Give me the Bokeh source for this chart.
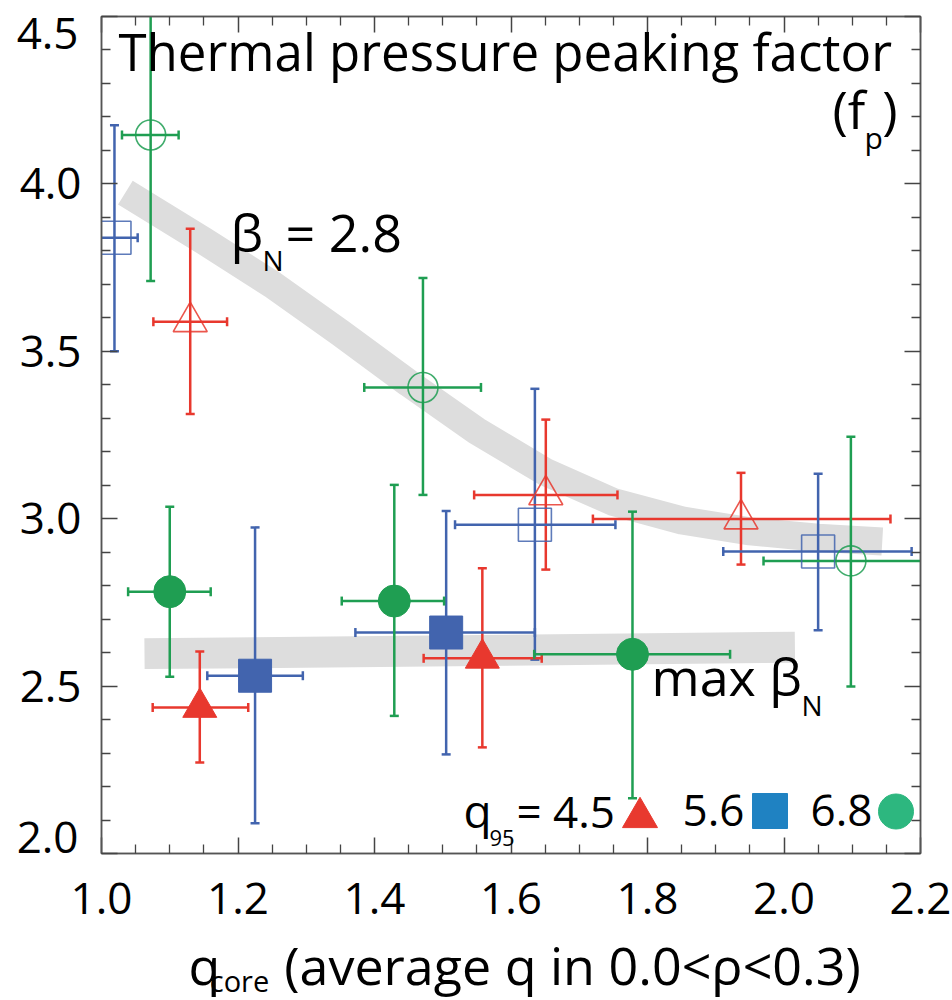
import numpy as np
from bokeh.plotting import figure
from bokeh.models import Range1d, FixedTicker, LinearAxis, Label, ColumnDataSource, PrintfTickFormatter
from bokeh.embed import file_html
from bokeh.resources import INLINE

# ---------------- data ----------------
x_ticks = [1.0, 1.2, 1.4, 1.6, 1.8, 2.0, 2.2]
x_minor = [1.05, 1.1, 1.15, 1.25, 1.3, 1.35, 1.45, 1.5, 1.55, 1.65, 1.7, 1.75,
           1.85, 1.9, 1.95, 2.05, 2.1, 2.15]
y_ticks = [2.0, 2.5, 3.0, 3.5, 4.0, 4.5]
y_minor = [2.1, 2.2, 2.3, 2.4, 2.6, 2.7, 2.8, 2.9, 3.1, 3.2, 3.3, 3.4,
           3.6, 3.7, 3.8, 3.9, 4.1, 4.2, 4.3, 4.4]
y_end_labels = ["4.5", "2.0"]   # end labels drawn nudged inside, as in the original

q95_labels = ["4.5", "5.6", "6.8"]

# beta_N = 2.8  (open symbols)
bn28_q45_x = [1.130, 1.651, 1.937]
bn28_q45_y = [3.588, 3.071, 2.999]
bn28_q45_xlo = [1.076, 1.546, 1.720]
bn28_q45_xhi = [1.184, 1.756, 2.156]
bn28_q45_ylo = [3.313, 2.848, 2.863]
bn28_q45_yhi = [3.866, 3.296, 3.137]

bn28_q56_x = [1.019, 1.635, 2.050]
bn28_q56_y = [3.839, 2.982, 2.902]
bn28_q56_xlo = [0.990, 1.518, 1.911]
bn28_q56_xhi = [1.053, 1.753, 2.187]
bn28_q56_ylo = [3.500, 2.579, 2.667]
bn28_q56_yhi = [4.175, 3.388, 3.134]

bn28_q68_x = [1.072, 1.471, 2.098]
bn28_q68_y = [4.146, 3.392, 2.874]
bn28_q68_xlo = [1.030, 1.385, 1.970]
bn28_q68_xhi = [1.113, 1.556, 2.250]
bn28_q68_ylo = [3.710, 3.071, 2.499]
bn28_q68_yhi = [4.600, 3.719, 3.245]

# max beta_N  (filled symbols)
bnmax_q45_x = [1.144, 1.558]
bnmax_q45_y = [2.436, 2.583]
bnmax_q45_xlo = [1.075, 1.472]
bnmax_q45_xhi = [1.215, 1.645]
bnmax_q45_ylo = [2.272, 2.317]
bnmax_q45_yhi = [2.603, 2.852]

bnmax_q56_x = [1.225, 1.505]
bnmax_q56_y = [2.531, 2.660]
bnmax_q56_xlo = [1.155, 1.372]
bnmax_q56_xhi = [1.295, 1.635]
bnmax_q56_ylo = [2.090, 2.296]
bnmax_q56_yhi = [2.974, 3.023]

bnmax_q68_x = [1.100, 1.429, 1.778]
bnmax_q68_y = [2.782, 2.754, 2.595]
bnmax_q68_xlo = [1.039, 1.352, 1.634]
bnmax_q68_xhi = [1.160, 1.502, 1.921]
bnmax_q68_ylo = [2.528, 2.411, 2.165]
bnmax_q68_yhi = [3.036, 3.101, 3.021]

# guide bands (trend curves)
band_bn28_x = [1.035, 1.15, 1.25, 1.35, 1.45, 1.55, 1.65, 1.75, 1.85, 1.95, 2.05, 2.144]
band_bn28_y = [3.974, 3.830, 3.700, 3.555, 3.405, 3.262, 3.140, 3.050, 2.995, 2.962, 2.943, 2.932]
band_max_x = [1.063, 1.556, 2.016]
band_max_y = [2.597, 2.606, 2.616]

# ---------------- style ----------------
RED, BLUE, GREEN = "#e8382e", "#4264ae", "#1f9e52"
LEG_RED, LEG_BLUE, LEG_GREEN = "#e8392f", "#1f82c2", "#2db77f"
FONT = "Open Sans"
BASE_SHIFT = 0.43   # empirical baseline correction (fraction of font size)

X0, X1, Y0, Y1 = 1.0, 2.2, 2.0, 4.5
FL, FT, FW = 101, 16, 819
FB = 853                       # frame bottom in page pixels
FH = FB - FT


def dx(px):
    return X0 + (px - FL) * (X1 - X0) / FW


def dy(py):
    return Y1 - (py - FT) * (Y1 - Y0) / FH


p = figure(frame_width=FW, frame_height=FH,
           x_range=Range1d(X0, X1), y_range=Range1d(Y0, Y1),
           output_backend="svg", toolbar_location=None,
           min_border_left=FL, min_border_right=952 - FL - FW,
           min_border_top=FT, min_border_bottom=1000 - FB,
           background_fill_color="white", border_fill_color="white",
           outline_line_color="#555555", outline_line_width=1.5)
p.xgrid.visible = False
p.ygrid.visible = False


def style_axis(ax, ticks, minor, show_labels):
    ax.ticker = FixedTicker(ticks=ticks, minor_ticks=minor)
    ax.axis_line_color = "#555555"
    ax.axis_line_width = 1.5
    ax.major_tick_line_color = "#444444"
    ax.minor_tick_line_color = "#444444"
    ax.major_tick_line_width = 1.5
    ax.minor_tick_line_width = 1.3
    ax.major_tick_in = 16
    ax.major_tick_out = 0
    ax.minor_tick_in = 9
    ax.minor_tick_out = 0
    if show_labels:
        ax.formatter = PrintfTickFormatter(format="%.1f")
        ax.major_label_text_font = FONT
        ax.major_label_text_font_size = "44px"
        ax.major_label_text_color = "black"
    else:
        ax.major_label_overrides = {t: "" for t in ticks}
        ax.major_label_text_font_size = "1px"
        ax.major_label_standoff = 0


style_axis(p.xaxis[0], x_ticks, x_minor, True)
style_axis(p.yaxis[0], y_ticks, y_minor, True)
p.xaxis[0].major_label_standoff = 29
p.yaxis[0].major_label_standoff = 20
p.yaxis[0].major_label_overrides = {4.5: "", 2.0: ""}

top_ax = LinearAxis()
style_axis(top_ax, x_ticks, x_minor, False)
p.add_layout(top_ax, "above")
right_ax = LinearAxis()
style_axis(right_ax, y_ticks, y_minor, False)
p.add_layout(right_ax, "right")


def text_axis(parts, size, standoff, side, conv):
    ticks = [conv(c) for c, _ in parts]
    ax = LinearAxis(ticker=FixedTicker(ticks=ticks, minor_ticks=[]))
    ax.major_label_overrides = {t: s for t, (_, s) in zip(ticks, parts)}
    ax.major_label_text_font = FONT
    ax.major_label_text_font_size = size
    ax.major_label_text_color = "black"
    ax.major_label_standoff = standoff
    ax.axis_line_color = None
    ax.major_tick_line_color = None
    ax.minor_tick_line_color = None
    ax.major_tick_in = 0
    ax.major_tick_out = 0
    ax.minor_tick_in = 0
    ax.minor_tick_out = 0
    p.add_layout(ax, side)


# y end labels, nudged inside the frame like the original figure
text_axis([(33, y_end_labels[0]), (837, y_end_labels[1])], "44px", -62, "left", dy)

# x-axis title "q_core(average q in 0.0<rho<0.3)" built from two text-only axes
text_axis([(204, "q"), (572, "(average q in 0.0<\u03c1<0.3)")], "52px", 12, "below", dx)
text_axis([(239, "core")], "29px", -42, "below", dx)

# bands
p.line(band_bn28_x, band_bn28_y, line_width=28, line_color="#dddddd",
       line_cap="butt", line_join="round")
p.line(band_max_x, band_max_y, line_width=31, line_color="#dddddd",
       line_cap="butt", line_join="round")

series = [
    (bn28_q45_x, bn28_q45_y, bn28_q45_xlo, bn28_q45_xhi, bn28_q45_ylo, bn28_q45_yhi, RED, "triangle", 34, False),
    (bn28_q56_x, bn28_q56_y, bn28_q56_xlo, bn28_q56_xhi, bn28_q56_ylo, bn28_q56_yhi, BLUE, "square", 33, False),
    (bn28_q68_x, bn28_q68_y, bn28_q68_xlo, bn28_q68_xhi, bn28_q68_ylo, bn28_q68_yhi, GREEN, "circle", 30, False),
    (bnmax_q45_x, bnmax_q45_y, bnmax_q45_xlo, bnmax_q45_xhi, bnmax_q45_ylo, bnmax_q45_yhi, RED, "triangle", 34, True),
    (bnmax_q56_x, bnmax_q56_y, bnmax_q56_xlo, bnmax_q56_xhi, bnmax_q56_ylo, bnmax_q56_yhi, BLUE, "square", 33, True),
    (bnmax_q68_x, bnmax_q68_y, bnmax_q68_xlo, bnmax_q68_xhi, bnmax_q68_ylo, bnmax_q68_yhi, GREEN, "circle", 32, True),
]

sources = []
for (x, y, xlo, xhi, ylo, yhi, color, marker, size, filled) in series:
    src = ColumnDataSource(dict(x=x, y=y, xlo=xlo, xhi=xhi, ylo=ylo, yhi=yhi))
    sources.append(src)
    p.segment(x0="x", y0="ylo", x1="x", y1="yhi", source=src, line_color=color, line_width=2.5)
    p.segment(x0="xlo", y0="y", x1="xhi", y1="y", source=src, line_color=color, line_width=2.5)
    for cx, cy, ang in (("x", "ylo", 0.0), ("x", "yhi", 0.0), ("xlo", "y", np.pi / 2), ("xhi", "y", np.pi / 2)):
        p.scatter(x=cx, y=cy, source=src, marker="dash", size=9, angle=ang,
                  line_color=color, line_width=2.5)

for src, (x, y, xlo, xhi, ylo, yhi, color, marker, size, filled) in zip(sources, series):
    if filled:
        p.scatter(x="x", y="y", source=src, marker=marker, size=size,
                  fill_color=color, line_color=color, line_width=1)
    else:
        p.scatter(x="x", y="y", source=src, marker=marker, size=size,
                  fill_color=None, line_color=color, line_width=1.6, line_alpha=0.85)


def txt(s, px, py, size, align="left"):
    fs = float(size.replace("px", ""))
    p.add_layout(Label(x=dx(px), y=dy(py - BASE_SHIFT * fs), text=s, text_font=FONT,
                       text_font_size=size, text_color="black",
                       text_align=align, text_baseline="alphabetic"))


# title-like annotation
txt("Thermal pressure peaking factor", 118, 72, "51px")
txt("(f", 832, 130, "52px")
txt("p", 864, 150, "30px")
txt(")", 897, 130, "52px", align="right")

# curve labels
txt("\u03b2", 230, 253, "52px")
txt("N", 262, 272, "28px")
txt("= 2.8", 285, 253, "52px")
txt("max \u03b2", 651, 697, "52px")
txt("N", 801, 717, "28px")

# legend
txt("q", 463, 829, "46px")
txt("95", 489, 847, "22px")
txt("= " + q95_labels[0], 516, 829, "44px")
txt(q95_labels[1], 682, 829, "44px")
txt(q95_labels[2], 810, 829, "44px")
leg_x = [dx(639.5), dx(769.5), dx(895.5)]
leg_y = [dy(817), dy(810.5), dy(811)]
p.scatter(x=[leg_x[0]], y=[leg_y[0]], marker="triangle", size=35, fill_color=LEG_RED, line_color=LEG_RED)
p.scatter(x=[leg_x[1]], y=[leg_y[1]], marker="square", size=35, fill_color=LEG_BLUE, line_color=LEG_BLUE)
p.scatter(x=[leg_x[2]], y=[leg_y[2]], marker="circle", size=35, fill_color=LEG_GREEN, line_color=LEG_GREEN)

open("out.html", "w").write(file_html(p, INLINE))
